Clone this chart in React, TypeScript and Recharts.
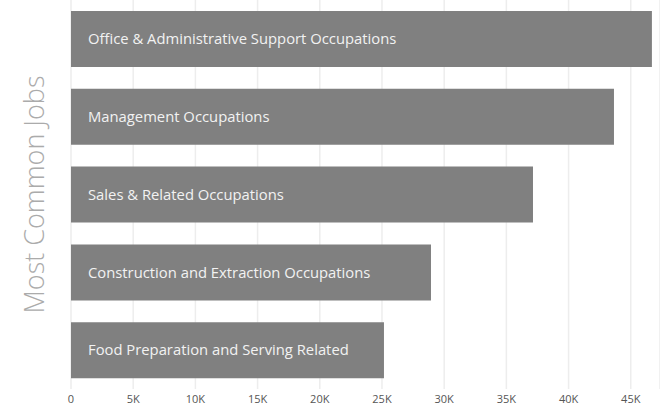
import React from 'react';
import { BarChart, Bar, XAxis, YAxis, CartesianGrid, LabelList } from 'recharts';

const jobs = [
  'Office & Administrative Support Occupations',
  'Management Occupations',
  'Sales & Related Occupations',
  'Construction and Extraction Occupations',
  'Food Preparation and Serving Related',
];
const counts = [46700, 43650, 37140, 28940, 25160];
const xTicks = [0, 5000, 10000, 15000, 20000, 25000, 30000, 35000, 40000, 45000];

const data = jobs.map((name, i) => ({ name, value: counts[i] }));

const fmt = (v: number) => (v === 0 ? '0' : `${v / 1000}K`);

export default function App() {
  return (
    <div style={{ position: 'absolute', left: 0, top: 0 }}>
      <BarChart
        width={660}
        height={408}
        data={data}
        layout="vertical"
        margin={{ top: 0, right: 0, bottom: 0, left: 0 }}
        barCategoryGap={11}
      >
        <CartesianGrid horizontal={false} stroke="#ededed" strokeWidth={1.5} />
        <XAxis
          type="number"
          domain={[0, 47350]}
          ticks={xTicks}
          tickFormatter={fmt}
          allowDataOverflow
          axisLine={false}
          tickLine={false}
          height={19}
          tickMargin={0}
          tick={{ fill: '#555555', fontSize: 11, fontFamily: 'Open Sans' }}
          interval={0}
        />
        <YAxis
          type="category"
          dataKey="name"
          width={71}
          tick={false}
          axisLine={false}
          tickLine={false}
          label={{
            value: 'Most Common Jobs',
            angle: -90,
            position: 'center',
            dx: -1,
            fill: '#ababab',
            fontSize: 27,
            fontFamily: 'Open Sans',
            fontWeight: 300,
          }}
        />
        <Bar dataKey="value" fill="#808080" isAnimationActive={false}>
          <LabelList
            dataKey="name"
            position="insideLeft"
            offset={17}
            fill="#f2f2f2"
            fontSize={14.8}
            fontFamily="Open Sans"
          />
        </Bar>
      </BarChart>
    </div>
  );
}
